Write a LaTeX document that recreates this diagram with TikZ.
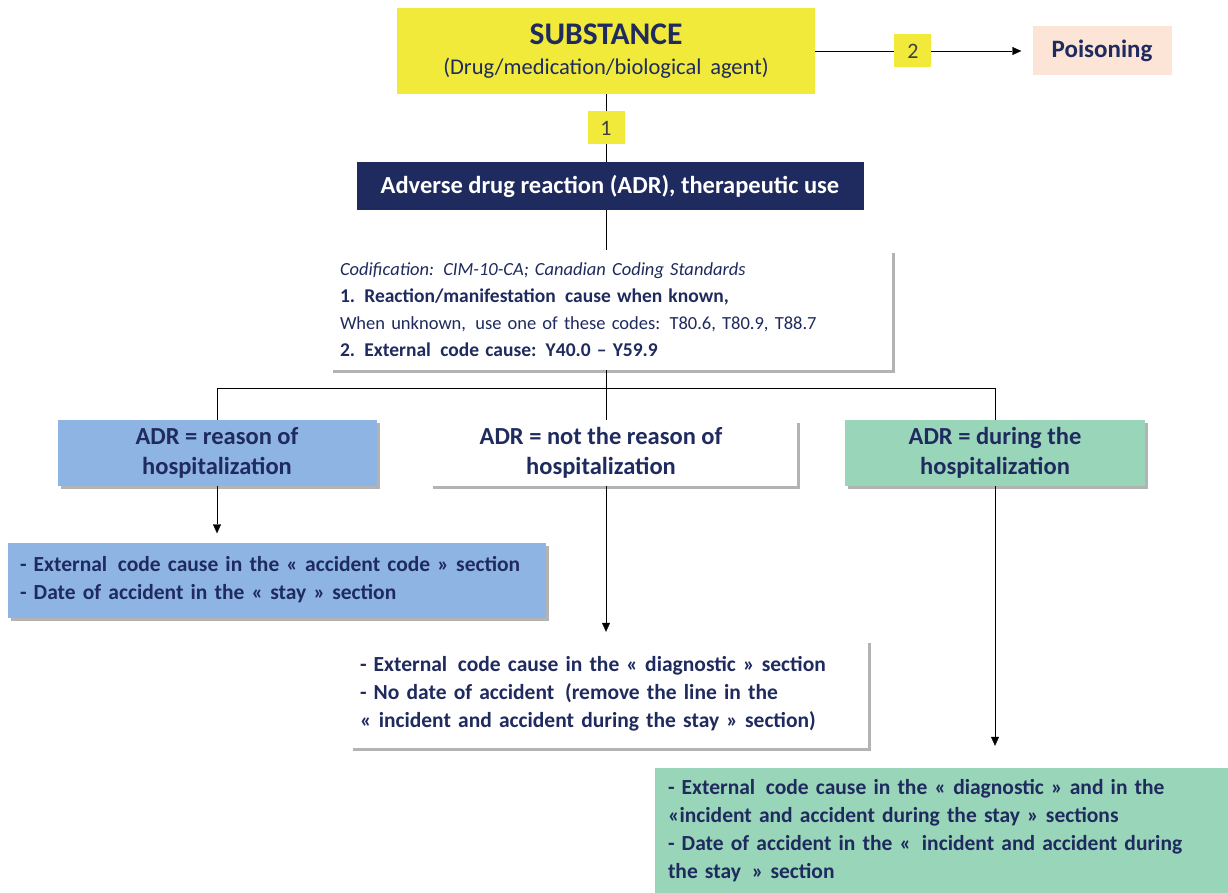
\documentclass[tikz,border=0pt]{standalone}
\usepackage{fontspec}
\setmainfont{Carlito}
\usetikzlibrary{shadows,arrows.meta}

\definecolor{subyellow}{RGB}{241,234,58}
\definecolor{adrnavy}{RGB}{31,42,94}
\definecolor{adrblue}{RGB}{142,180,227}
\definecolor{adrmint}{RGB}{153,213,185}
\definecolor{adrpeach}{RGB}{252,228,214}

\begin{document}
\begin{tikzpicture}[x=1pt,y=-1pt,>={Triangle[length=9pt,width=8pt]},
every node/.style={inner sep=0pt,text=adrnavy,font=\fontsize{24.5}{30}\selectfont\bfseries},
shade box/.style={drop shadow={shadow xshift=3pt,shadow yshift=-3pt,fill=black!50,opacity=.6}},
lbl/.style={fill=subyellow,minimum width=37,minimum height=33,font=\fontsize{22}{24}\selectfont,text=black!75},
textbox/.style={align=left,font=\fontsize{21.5}{27.8}\selectfont\bfseries}]
\useasboundingbox (0,0) rectangle (1228,893);

\node (substance) [fill=subyellow,minimum width=418,minimum height=86,align=center] at (606,51)
    {\fontsize{31.5}{34}\selectfont SUBSTANCE\\[0pt] \fontsize{22.5}{26}\selectfont\mdseries (Drug/medication/biological\, agent)};
\node (poison) [fill=adrpeach,minimum width=139,minimum height=49,font=\fontsize{25}{28}\selectfont\bfseries] at (1102,51) {Poisoning};
\node (adr) [fill=adrnavy,text=white,minimum width=507,minimum height=48,font=\fontsize{24.5}{28}\selectfont\bfseries] at (610,186)
    {Adverse drug reaction (ADR), therapeutic use};
\node (codif) [fill=white,shade box,minimum width=562,minimum height=120,text width=542,align=left,font=\fontsize{18.5}{27}\selectfont] at (611,310)
    {\itshape Codification: CIM-10-CA; Canadian Coding Standards\\
     \upshape\bfseries\fontsize{19.5}{27}\selectfont 1. Reaction/manifestation\, cause when known,\\
     \mdseries\fontsize{18.5}{27}\selectfont When unknown,\, use one of these codes: T80.6, T80.9, T88.7\\
     \bfseries\fontsize{19.5}{27}\selectfont 2. External\, code cause: Y40.0 -- Y59.9};

\node (reason) [fill=adrblue,shade box,minimum width=319,minimum height=66,align=center] at (217,453)
    {ADR = reason of\\hospitalization};
\node (notreason) [fill=white,shade box,minimum width=367,minimum height=66,align=center] at (613,453)
    {ADR = not the reason of\hspace*{24pt}\\hospitalization\hspace*{24pt}};
\node (during) [fill=adrmint,shade box,minimum width=300,minimum height=66,align=center] at (995,453)
    {ADR = during the\\hospitalization};

\node (reasonres) [fill=adrblue,shade box,minimum width=538,minimum height=75,text width=514,textbox] at (277,580)
    {- External\, code cause in the « accident code » section\\
     - Date of accident in the « stay » section};
\node (notreasonres) [fill=white,shade box,minimum width=518,minimum height=108,text width=498,textbox] at (609,694)
    {- External\, code cause in the « diagnostic » section\\
     - No date of accident\, (remove the line in the\\
     « incident and accident during the stay » section)};
\node (duringres) [fill=adrmint,minimum width=573,minimum height=125,text width=547,textbox] at (941.5,830.5)
    {- External\, code cause in the « diagnostic » and in the\\
     «incident and accident during the stay » sections\\
     - Date of accident in the «\, incident and accident during\\
     the stay\, » section};

\draw (substance.east) -- node[lbl,pos=.45] (two) {2} (poison.west) [shorten >=11pt,->];
\draw (substance.south) -- node[lbl] (one) {1} (substance.south |- adr.north);
\draw (adr.south -| substance.south) -- (codif.north -| substance.south);
\draw (codif.south -| substance.south) -- ++(0,18) coordinate (split);
\draw (reason.north) |- (split) -| (during.north);
\draw (split) -- (notreason.north -| split);
\draw[->,shorten >=9pt] (reason.south) -- (reasonres.north -| reason.south);
\draw[->,shorten >=8pt] (notreason.south -| split) -- (notreasonres.north -| split);
\draw[->,shorten >=22pt] (during.south) -- (duringres.north -| during.south);
\end{tikzpicture}
\end{document}
